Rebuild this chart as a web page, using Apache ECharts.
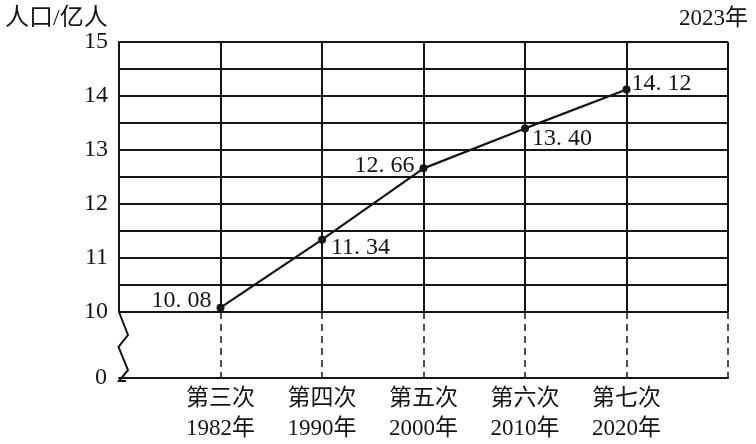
<!DOCTYPE html>
<html><head><meta charset="utf-8">
<script src="https://cdn.jsdelivr.net/npm/echarts@6/dist/echarts.min.js"></script>
<style>html,body{margin:0;padding:0;background:#fff}#c{width:756px;height:444px}</style>
</head><body><div id="c"></div>
<script>
const censusNames = ['第三次','第四次','第五次','第六次','第七次'];
const censusYears = ['1982年','1990年','2000年','2010年','2020年'];
const population = [10.08, 11.34, 12.66, 13.40, 14.12];
const yTicks = [10, 11, 12, 13, 14, 15];
const titleText = '人口/亿人';
const yearText = '2023年';

const serif = '"Liberation Serif","DejaVu Serif","Noto Sans CJK SC",serif';
const cjk = '"Liberation Serif","Noto Sans CJK SC",serif';
const ink = '#151515';

const cats = [''].concat(censusNames.map((n, i) => n + '\n' + censusYears[i])).concat(['']);
const seriesData = [null].concat(population).concat([null]);
const labelStyles = [
  null,
  {position: 'left', offset: [0, -7]},
  {position: 'right', offset: [0, 8]},
  {position: 'left', offset: [0, -3]},
  {position: 'right', offset: [-2, 10]},
  {position: 'right', offset: [-4, -6]},
  null
];

const chart = echarts.init(document.getElementById('c'), null, {renderer: 'canvas'});
const gridL = 119, gridR = 28;
chart.setOption({
  backgroundColor: '#fff',
  animation: false,
  title: [
    {text: titleText, left: 0, top: 2, textStyle: {fontFamily: cjk, fontSize: 24, fontWeight: 'normal', color: ink}},
    {text: yearText, right: 3, top: 2, textStyle: {fontFamily: cjk, fontSize: 23, fontWeight: 'normal', color: ink}}
  ],
  grid: [
    {left: gridL, right: gridR, top: 42, height: 270},
    {left: gridL, right: gridR, top: 312, height: 69}
  ],
  xAxis: [
    {gridIndex: 0, type: 'category', data: cats, boundaryGap: false,
     axisLine: {show: false}, axisTick: {show: false}, axisLabel: {show: false},
     splitLine: {show: true, lineStyle: {color: ink, width: 2}}},
    {gridIndex: 1, type: 'category', data: cats, boundaryGap: false,
     axisLine: {show: true, lineStyle: {color: ink, width: 2}}, axisTick: {show: false},
     axisLabel: {show: true, margin: 6, fontFamily: cjk, fontSize: 23, lineHeight: 30, color: ink},
     splitLine: {show: true, interval: (i) => i !== 0, lineStyle: {color: ink, width: 1.5, type: [7, 5]}}}
  ],
  yAxis: [
    {gridIndex: 0, type: 'value', min: 10, max: 15, interval: 0.5,
     axisLine: {show: true, lineStyle: {color: ink, width: 2}}, axisTick: {show: false},
     axisLabel: {margin: 11, fontFamily: serif, fontSize: 24, color: ink,
       formatter: v => yTicks.indexOf(v) >= 0 ? String(v) : ''},
     splitLine: {show: true, lineStyle: {color: ink, width: 2}}},
    {gridIndex: 1, type: 'value', min: 0, max: 1, interval: 1,
     axisLine: {show: false}, axisTick: {show: false}, splitLine: {show: false},
     axisLabel: {margin: 12, fontFamily: serif, fontSize: 24, color: ink,
       formatter: v => v === 0 ? '0' : ''}}
  ],
  series: [{
    type: 'line', xAxisIndex: 0, yAxisIndex: 0,
    data: seriesData.map((v, i) => v === null ? null : {value: v, label: labelStyles[i]}),
    symbol: 'circle', symbolSize: 8,
    itemStyle: {color: ink},
    lineStyle: {color: ink, width: 2.2},
    label: {show: true, fontFamily: serif, fontSize: 24, color: ink,
      formatter: p => Number(p.value).toFixed(2).replace('.', '. ')},
    z: 5
  }],
  graphic: [{
    type: 'polyline', silent: true, z: 10,
    shape: {points: [[119, 312], [128, 335], [118.5, 347], [128, 370], [119, 381], [126, 381]]},
    style: {fill: null, stroke: ink, lineWidth: 2}
  }]
});
</script></body></html>
